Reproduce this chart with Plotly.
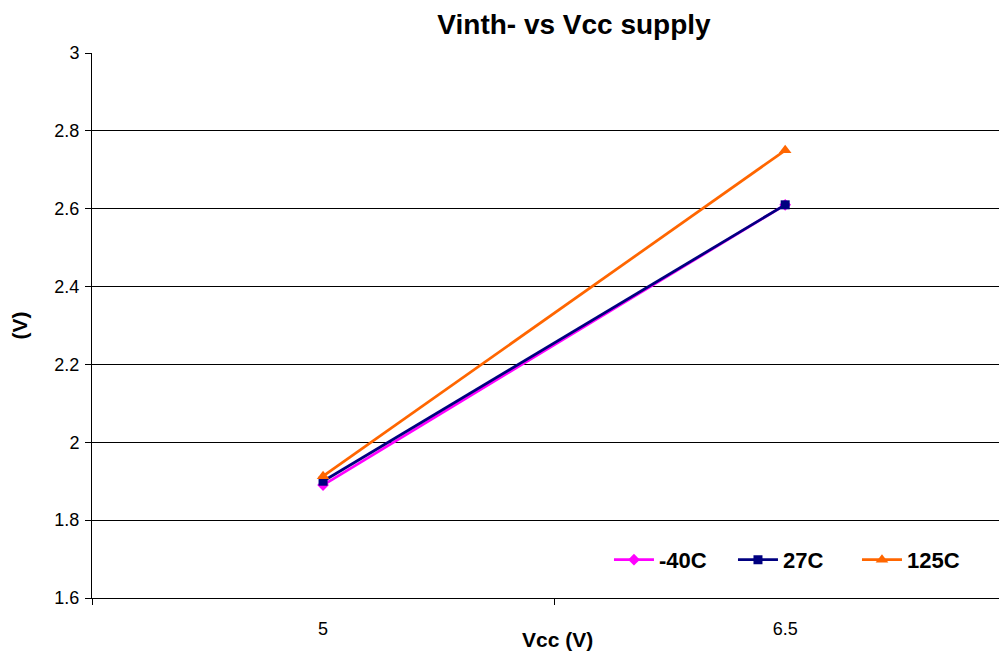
import plotly.graph_objects as go

categories = ["5", "6.5"]
series_names = ["-40C", "27C", "125C"]
v_m40 = [1.89, 2.61]
v_27 = [1.90, 2.61]
v_125 = [1.913, 2.75]
y_ticks = [1.6, 1.8, 2.0, 2.2, 2.4, 2.6, 2.8, 3.0]
y_ticktext = ["1.6", "1.8", "2", "2.2", "2.4", "2.6", "2.8", "3"]

colors = ["#FF00FF", "#000080", "#FF6600"]
symbols = ["diamond", "square", "triangle-up"]
sizes = [9, 9, 11]
values = [v_m40, v_27, v_125]

fig = go.Figure()
for name, vals, c, s, sz in zip(series_names, values, colors, symbols, sizes):
    fig.add_trace(go.Scatter(
        x=categories, y=vals, name="<b>" + name + "</b>", mode="lines+markers",
        line=dict(color=c, width=2.75),
        marker=dict(symbol=s, size=sz, color=c),
    ))

font_family = "Liberation Sans, Arial, sans-serif"
# page body has an 8px margin, so the figure is sized/offset to compensate
W, H = 999, 643
fig.update_layout(
    width=W, height=H,
    paper_bgcolor="white", plot_bgcolor="white",
    margin=dict(l=84, r=0, t=45, b=53),
    font=dict(family=font_family, size=18, color="black"),
    title=dict(text="<b>Vinth- vs Vcc supply</b>", x=566 / W, xanchor="center",
               y=1 - 16 / H, yanchor="middle", font=dict(size=28)),
    showlegend=True,
    legend=dict(orientation="h", x=0.565, xanchor="left", y=0.07, yanchor="middle",
                font=dict(size=22, family=font_family), bgcolor="rgba(0,0,0,0)",
                itemwidth=40, traceorder="normal",
                entrywidth=69, entrywidthmode="pixels"),
    annotations=[dict(text="<b>Vcc (V)</b>", xref="paper", yref="paper",
                      x=(557 - 92) / 915, y=-(640 - 598) / 545,
                      xanchor="center", yanchor="middle", showarrow=False,
                      font=dict(size=21, family=font_family))],
)
fig.update_xaxes(
    type="category", range=[-0.5, 1.48], tickson="boundaries",
    ticks="outside", ticklen=6, tickcolor="black", showgrid=False,
    showline=True, linecolor="black", linewidth=1, ticklabelstandoff=14,
    tickfont=dict(size=18),
)
fig.update_yaxes(
    range=[1.6, 3.0], tickvals=y_ticks, ticktext=y_ticktext,
    ticks="outside", ticklen=6, tickcolor="black", ticklabelstandoff=2,
    showgrid=True, gridcolor="black", gridwidth=1,
    showline=True, linecolor="black", linewidth=1, zeroline=False,
    title=dict(text="<b>(V)</b>", font=dict(size=21), standoff=30),
    tickfont=dict(size=18),
)
fig.write_html("out.html")
